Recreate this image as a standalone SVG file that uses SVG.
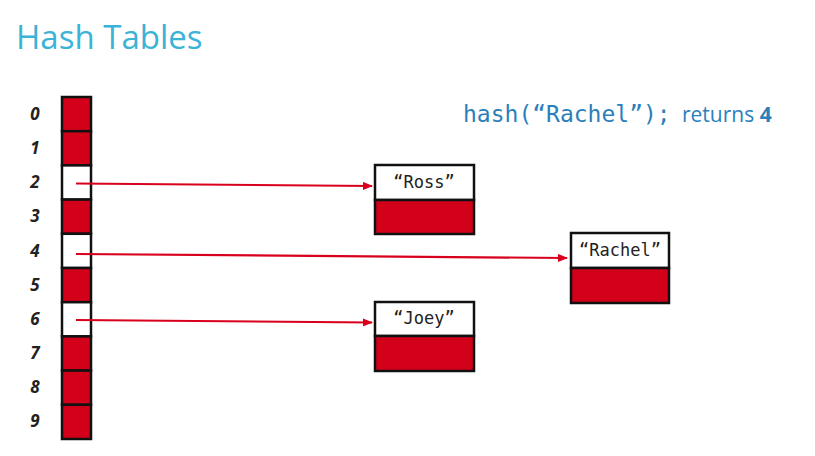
<svg xmlns="http://www.w3.org/2000/svg" width="815" height="456" viewBox="0 0 815 456">
<style>
.title{font-family:"Open Sans","Liberation Sans",sans-serif;font-size:33px;fill:#3bb3d7}
.idx{font-family:"Open Sans","Liberation Sans",sans-serif;font-size:17px;font-weight:bold;font-style:italic;fill:#222;text-anchor:middle}
.cellr{fill:#d3001a;stroke:#111;stroke-width:2.5}
.cellw{fill:#fff;stroke:#111;stroke-width:2.5}
.mono{font-family:"DejaVu Sans Mono","Liberation Mono",monospace;font-size:17px;fill:#222;text-anchor:middle}
.code{font-family:"DejaVu Sans Mono","Liberation Mono",monospace;font-size:23px;fill:#2b7fba}
.sans{font-family:"Open Sans","Liberation Sans",sans-serif;font-size:21px;fill:#2b7fba}
.conn{stroke:#d8001c;stroke-width:2.2;fill:none}
</style>
<defs>
<marker id="ah" markerWidth="10" markerHeight="8" refX="9" refY="4" orient="auto" markerUnits="userSpaceOnUse">
<path d="M0,0 L10,4 L0,8 Z" fill="#d8001c"/>
</marker>
</defs>
<rect width="815" height="456" fill="#fff"/>
<text class="title" x="16" y="49">Hash Tables</text>
<text x="463" y="122"><tspan class="code">hash(“Rachel”);</tspan><tspan class="sans" x="682">returns </tspan><tspan class="sans" font-weight="bold">4</tspan></text>
<g id="array">
<g id="cell0"><rect class="cellr" x="62" y="97" width="29" height="34.2"/><text class="idx" x="35" y="120">0</text></g>
<g id="cell1"><rect class="cellr" x="62" y="131.2" width="29" height="34.2"/><text class="idx" x="35" y="154">1</text></g>
<g id="cell2"><rect class="cellw" x="62" y="165.4" width="29" height="34.2"/><text class="idx" x="35" y="188">2</text></g>
<g id="cell3"><rect class="cellr" x="62" y="199.6" width="29" height="34.2"/><text class="idx" x="35" y="222">3</text></g>
<g id="cell4"><rect class="cellw" x="62" y="233.8" width="29" height="34.2"/><text class="idx" x="35" y="257">4</text></g>
<g id="cell5"><rect class="cellr" x="62" y="268" width="29" height="34.2"/><text class="idx" x="35" y="291">5</text></g>
<g id="cell6"><rect class="cellw" x="62" y="302.2" width="29" height="34.2"/><text class="idx" x="35" y="325">6</text></g>
<g id="cell7"><rect class="cellr" x="62" y="336.4" width="29" height="34.2"/><text class="idx" x="35" y="359">7</text></g>
<g id="cell8"><rect class="cellr" x="62" y="370.6" width="29" height="34.2"/><text class="idx" x="35" y="393">8</text></g>
<g id="cell9"><rect class="cellr" x="62" y="404.8" width="29" height="34.2"/><text class="idx" x="35" y="427">9</text></g>
</g>
<g id="ross"><rect class="cellw" x="375" y="165" width="99" height="35"/><rect class="cellr" x="375" y="200" width="99" height="34"/><text class="mono" x="424" y="188">“Ross”</text></g>
<g id="rachel"><rect class="cellw" x="571" y="233" width="98" height="35"/><rect class="cellr" x="571" y="268" width="98" height="35"/><text class="mono" x="620" y="256">“Rachel”</text></g>
<g id="joey"><rect class="cellw" x="375" y="302" width="99" height="34"/><rect class="cellr" x="375" y="336" width="99" height="35"/><text class="mono" x="424" y="324">“Joey”</text></g>
<g id="connectors">
<line class="conn" x1="76" y1="183.5" x2="372" y2="186" marker-end="url(#ah)"/>
<line class="conn" x1="76" y1="254" x2="567" y2="258" marker-end="url(#ah)"/>
<line class="conn" x1="76" y1="320" x2="372" y2="322.5" marker-end="url(#ah)"/>
</g>
</svg>
